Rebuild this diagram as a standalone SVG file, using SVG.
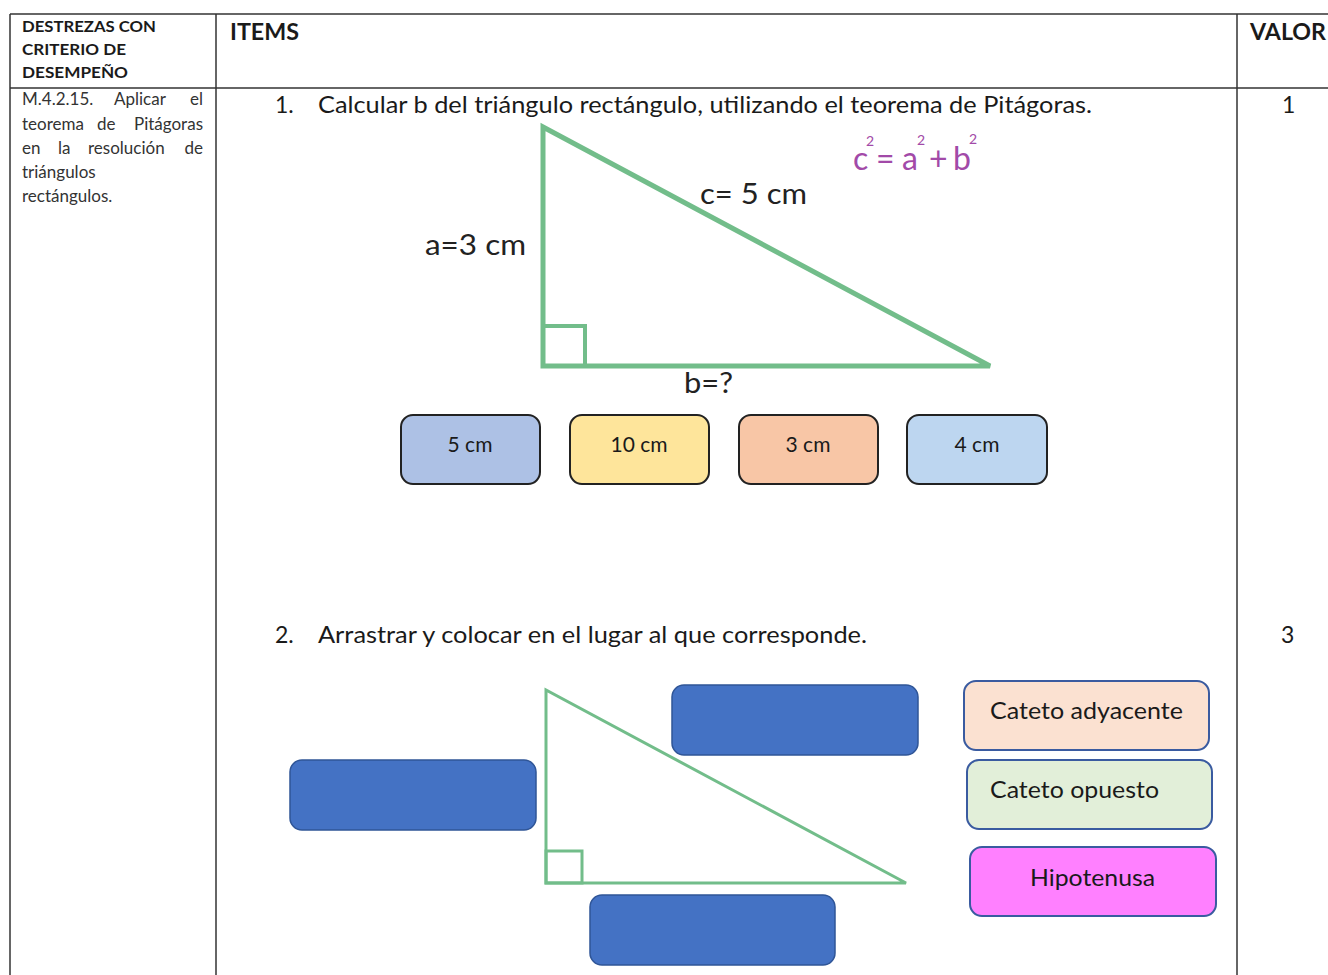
<svg xmlns="http://www.w3.org/2000/svg" width="1328" height="975" viewBox="0 0 1328 975">
<style>
text{font-family:Lato,"Open Sans","Liberation Sans",sans-serif;fill:#1a1a1a}
.grid{stroke:#333;stroke-width:1.5;fill:none}
.hd{font-weight:bold;font-size:15.5px}
.big{font-weight:bold;font-size:23px}
.body{font-size:17px;fill:#333}
.end{text-anchor:end}
.item{font-size:23px}
.lbl{font-size:29px;fill:#222}
.opt{stroke:#222;stroke-width:2}
.opttx{font-size:21px;text-anchor:middle}
.tri{fill:none;stroke:#72bd8a;stroke-linejoin:miter}
.drop{fill:#4472c4;stroke:#2f5597;stroke-width:1.5}
.card{stroke:#3a5ba0;stroke-width:2}
.cardtx{font-size:23.5px}
.purple{fill:#a24aa8}
</style>
<rect width="1328" height="975" fill="#fff"/>
<g id="table">
<line class="grid" x1="10" y1="14" x2="1328" y2="14"/>
<line class="grid" x1="10" y1="88" x2="1328" y2="88"/>
<line class="grid" x1="10" y1="14" x2="10" y2="975"/>
<line class="grid" x1="216" y1="14" x2="216" y2="975"/>
<line class="grid" x1="1237" y1="14" x2="1237" y2="975"/>
<text class="hd" x="22" y="32" textLength="134" lengthAdjust="spacingAndGlyphs">DESTREZAS CON</text>
<text class="hd" x="22" y="55" textLength="104" lengthAdjust="spacingAndGlyphs">CRITERIO DE</text>
<text class="hd" x="22" y="78" textLength="106" lengthAdjust="spacingAndGlyphs">DESEMPEÑO</text>
<text class="big" x="230" y="40" textLength="69" lengthAdjust="spacingAndGlyphs">ITEMS</text>
<text class="big" x="1250" y="40" textLength="76" lengthAdjust="spacingAndGlyphs">VALOR</text>
<text class="body" x="22" y="105">M.4.2.15.</text>
<text class="body" x="114" y="105">Aplicar</text>
<text class="body end" x="203" y="105">el</text>
<text class="body" x="22" y="130">teorema</text>
<text class="body" x="97" y="130">de</text>
<text class="body end" x="203" y="130">Pitágoras</text>
<text class="body" x="22" y="154">en</text>
<text class="body" x="58" y="154">la</text>
<text class="body" x="88" y="154">resolución</text>
<text class="body end" x="203" y="154">de</text>
<text class="body" x="22" y="178">triángulos</text>
<text class="body" x="22" y="202">rectángulos.</text>
</g>
<g id="item1">
<text class="item" x="275" y="113">1.</text>
<text class="item" x="318" y="113" textLength="774" lengthAdjust="spacingAndGlyphs">Calcular b del triángulo rectángulo, utilizando el teorema de Pitágoras.</text>
<text class="item" x="1282" y="113">1</text>
</g>
<g id="triangle1">
<polygon class="tri" stroke-width="5" points="543,127 543,366 990,366"/>
<rect class="tri" stroke-width="4" x="543" y="326" width="42" height="40"/>
<text class="lbl" x="700" y="204" textLength="107" lengthAdjust="spacingAndGlyphs">c= 5 cm</text>
<text class="lbl" x="425" y="255" textLength="101" lengthAdjust="spacingAndGlyphs">a=3 cm</text>
<text class="lbl" x="684" y="393" textLength="49" lengthAdjust="spacingAndGlyphs">b=?</text>
</g>
<g id="formula">
<text class="purple" x="853" y="170" font-size="32">c</text>
<text class="purple" x="866" y="146" font-size="14">2</text>
<text class="purple" x="876" y="170" font-size="32">=</text>
<text class="purple" x="902" y="170" font-size="32">a</text>
<text class="purple" x="917" y="145" font-size="14">2</text>
<text class="purple" x="929" y="170" font-size="32">+</text>
<text class="purple" x="953" y="170" font-size="32">b</text>
<text class="purple" x="969" y="144" font-size="14">2</text>
</g>
<g id="opt-5cm">
<rect class="opt" x="401" y="415" width="139" height="69" rx="12" fill="#adc1e5"/>
<text class="opttx" x="470" y="452">5 cm</text>
</g>
<g id="opt-10cm">
<rect class="opt" x="570" y="415" width="139" height="69" rx="12" fill="#fee59b"/>
<text class="opttx" x="639" y="452">10 cm</text>
</g>
<g id="opt-3cm">
<rect class="opt" x="739" y="415" width="139" height="69" rx="12" fill="#f8c6a6"/>
<text class="opttx" x="808" y="452">3 cm</text>
</g>
<g id="opt-4cm">
<rect class="opt" x="907" y="415" width="140" height="69" rx="12" fill="#bdd6f0"/>
<text class="opttx" x="977" y="452">4 cm</text>
</g>
<g id="item2">
<text class="item" x="275" y="643">2.</text>
<text class="item" x="318" y="643" textLength="549" lengthAdjust="spacingAndGlyphs">Arrastrar y colocar en el lugar al que corresponde.</text>
<text class="item" x="1281" y="643">3</text>
</g>
<g id="triangle2">
<polygon class="tri" stroke-width="3" points="546,690 546,883 906,883"/>
<rect class="tri" stroke-width="3" x="546" y="851" width="36" height="32"/>
</g>
<g id="drop-top"><rect class="drop" x="672" y="685" width="246" height="70" rx="12"/></g>
<g id="drop-left"><rect class="drop" x="290" y="760" width="246" height="70" rx="12"/></g>
<g id="drop-bottom"><rect class="drop" x="590" y="895" width="245" height="70" rx="12"/></g>
<g id="card-adyacente">
<rect class="card" x="964" y="681" width="245" height="69" rx="12" fill="#fbe1d1"/>
<text class="cardtx" x="990" y="719" textLength="193" lengthAdjust="spacingAndGlyphs">Cateto adyacente</text>
</g>
<g id="card-opuesto">
<rect class="card" x="967" y="760" width="245" height="69" rx="12" fill="#e2efd9"/>
<text class="cardtx" x="990" y="798" textLength="169" lengthAdjust="spacingAndGlyphs">Cateto opuesto</text>
</g>
<g id="card-hipotenusa">
<rect class="card" x="970" y="847" width="246" height="69" rx="12" fill="#ff80ff"/>
<text class="cardtx" x="1030" y="886" textLength="125" lengthAdjust="spacingAndGlyphs">Hipotenusa</text>
</g>
</svg>
